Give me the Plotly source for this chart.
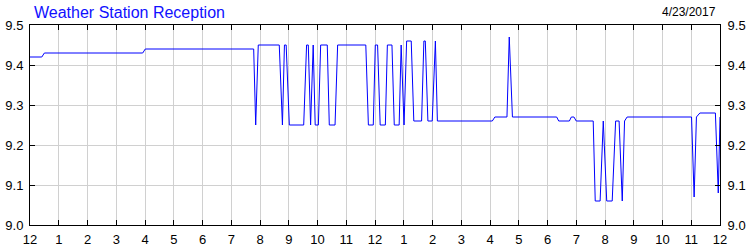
import plotly.graph_objects as go

# Time of day in hours (0 = midnight, 24 = next midnight)
hours = [0.00, 0.41, 0.50, 3.92, 4.01, 7.78, 7.85, 7.94, 8.67, 8.78, 8.85, 8.91, 9.02,
         9.52, 9.62, 9.68, 9.76, 9.85, 9.92, 10.03, 10.11, 10.34, 10.41, 10.61, 10.70,
         11.68, 11.77, 11.94, 12.01, 12.09, 12.18, 12.36, 12.43, 12.59, 12.67, 12.84,
         12.91, 13.01, 13.10, 13.26, 13.35, 13.62, 13.70, 13.75, 13.84, 13.99, 14.10,
         14.17, 16.08, 16.17, 16.59, 16.67, 16.78, 18.32, 18.39, 18.76, 18.83, 18.92,
         19.00, 19.59, 19.66, 19.83, 19.94, 20.06, 20.25, 20.37, 20.49, 20.60, 20.68,
         20.77, 23.01, 23.10, 23.18, 23.30, 23.84, 23.94, 24.00]
reception = [9.42, 9.42, 9.43, 9.43, 9.44, 9.44, 9.25, 9.45, 9.45, 9.25, 9.45, 9.45, 9.25,
             9.25, 9.45, 9.45, 9.25, 9.45, 9.25, 9.25, 9.45, 9.45, 9.25, 9.25, 9.45,
             9.45, 9.25, 9.25, 9.45, 9.45, 9.25, 9.25, 9.45, 9.45, 9.25, 9.25,
             9.45, 9.25, 9.46, 9.46, 9.26, 9.26, 9.46, 9.46, 9.26, 9.26, 9.46,
             9.26, 9.26, 9.27, 9.27, 9.47, 9.27, 9.27, 9.26, 9.26, 9.27, 9.27,
             9.26, 9.26, 9.06, 9.06, 9.26, 9.06, 9.06, 9.26, 9.26, 9.06, 9.26,
             9.27, 9.27, 9.07, 9.27, 9.28, 9.28, 9.08, 9.27]

x_tick_vals = list(range(0, 25))
x_tick_text = ["12", "1", "2", "3", "4", "5", "6", "7", "8", "9", "10", "11",
               "12", "1", "2", "3", "4", "5", "6", "7", "8", "9", "10", "11", "12"]
y_tick_vals = [9.0, 9.1, 9.2, 9.3, 9.4, 9.5]

title_text = "Weather Station Reception"
date_text = "4/23/2017"

FONT = "Liberation Sans, Arial, sans-serif"

fig = go.Figure()
fig.add_trace(go.Scatter(x=hours, y=reception, mode="lines",
                         line=dict(color="#0000ff", width=1),
                         showlegend=False, hoverinfo="skip"))
fig.add_trace(go.Scatter(x=[hours[0]], y=[reception[0]], yaxis="y2", mode="lines",
                         line=dict(color="rgba(0,0,0,0)", width=0),
                         showlegend=False, hoverinfo="skip"))

fig.update_layout(
    width=750, height=250,
    margin=dict(l=30, r=30, t=25, b=25),
    paper_bgcolor="white", plot_bgcolor="white",
    font=dict(family=FONT, size=13, color="black"),
    showlegend=False,
    xaxis=dict(range=[0, 24], tickvals=x_tick_vals, ticktext=x_tick_text,
               ticks="inside", ticklen=5, tickcolor="black", tickwidth=1,
               showline=True, linecolor="black", linewidth=1, mirror="ticks",
               showgrid=True, gridcolor="#d0d0d0", gridwidth=1, zeroline=False,
               tickfont=dict(size=13), ticklabelstandoff=2, automargin=False,
               fixedrange=True),
    yaxis=dict(range=[9.0, 9.5], tickvals=y_tick_vals, tickformat=".1f",
               ticks="inside", ticklen=5, tickcolor="black", tickwidth=1,
               showline=True, linecolor="black", linewidth=1, mirror=True,
               showgrid=True, gridcolor="#d0d0d0", gridwidth=1, zeroline=False,
               tickfont=dict(size=13), ticklabelstandoff=3, automargin=False,
               fixedrange=True),
    yaxis2=dict(range=[9.0, 9.5], tickvals=y_tick_vals, tickformat=".1f",
                overlaying="y", side="right",
                ticks="inside", ticklen=5, tickcolor="black", tickwidth=1,
                showline=True, linecolor="black", linewidth=1,
                showgrid=False, zeroline=False, tickfont=dict(size=13),
                ticklabelstandoff=4, automargin=False, fixedrange=True),
    annotations=[
        dict(text=title_text, xref="paper", yref="paper",
             x=(32 - 30) / 690, y=(225 - 12) / 200, xanchor="left", yanchor="middle",
             showarrow=False, font=dict(family=FONT, size=16, color="#1010ff")),
        dict(text=date_text, xref="paper", yref="paper",
             x=(718 - 30) / 690, y=(225 - 12) / 200, xanchor="right", yanchor="middle",
             showarrow=False, font=dict(family=FONT, size=12, color="black")),
    ],
)

fig.write_html("out.html")
